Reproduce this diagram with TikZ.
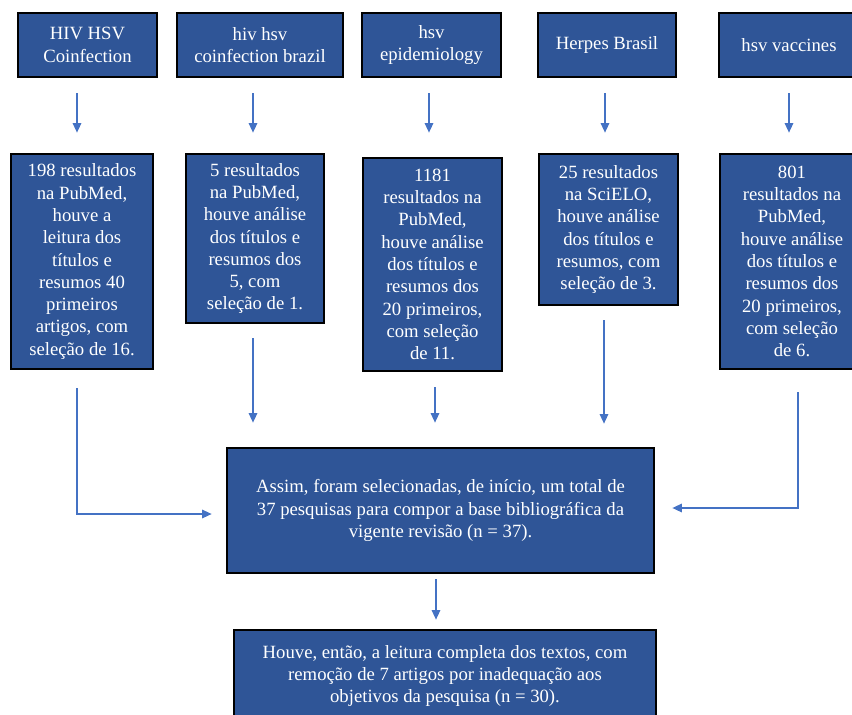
\documentclass[tikz,border=0pt]{standalone}
\usepackage{fontspec}
\setmainfont{Liberation Serif}
\usepackage{tikz}
\usetikzlibrary{arrows.meta,positioning,calc}
\definecolor{boxBlue}{RGB}{47,85,151}
\definecolor{arrBlue}{RGB}{68,114,196}

\begin{document}
\begin{tikzpicture}[
  x=1pt, y=-1pt,
  %% Dark blue box with black frame
  blk/.style={
    draw=black,
    line width=2.7pt,
    fill=boxBlue,
    text=white,
    align=center,
    inner sep=0pt,
    font=\fontsize{18.7}{22.3}\selectfont
  },
  %% Box size (width, height)
  boxsize/.style 2 args={minimum width=#1pt, minimum height=#2pt},
  arr/.style={-{Triangle[width=8.5pt,length=9.5pt]}, line width=1.4pt, arrBlue}
]
\useasboundingbox (0,0) rectangle (852,715);
\clip (0,0) rectangle (852,715);

%% ---- Search terms (top row) ----
\node[blk, boxsize={139}{64}] (hiv)    at (87.5,45)  {HIV HSV\\Coinfection};
\node[blk, boxsize={166}{64}] (hivbr)  at (260,45)   {hiv hsv\\coinfection brazil};
\node[blk, boxsize={139}{64}] (epi)    at (431.5,45) {hsv\\epidemiology};
\node[blk, boxsize={138}{64}] (herpes) at (607,45)   {Herpes Brasil};
\node[blk, boxsize={140}{64}] (vacc)   at (789,45)   {hsv vaccines};

%% ---- Search results (middle row) ----
\node[blk, boxsize={142}{215}] (rhiv)    at (82,261.5)  {198 resultados\\na PubMed,\\houve a\\leitura dos\\títulos e\\resumos 40\\primeiros\\artigos, com\\seleção de 16.};
\node[blk, boxsize={138}{169}] (rhivbr)  at (255,238.5) {5 resultados\\na PubMed,\\houve análise\\dos títulos e\\resumos dos\\5, com\\seleção de 1.};
\node[blk, boxsize={139}{213}] (repi)    at (432.5,264.5) {1181\\resultados na\\PubMed,\\houve análise\\dos títulos e\\resumos dos\\20 primeiros,\\com seleção\\de 11.};
\node[blk, boxsize={139}{151}] (rherpes) at (608.5,229.5) {25 resultados\\na SciELO,\\houve análise\\dos títulos e\\resumos, com\\seleção de 3.};
\node[blk, boxsize={144}{215}] (rvacc)   at (792,261.5)  {801\\resultados na\\PubMed,\\houve análise\\dos títulos e\\resumos dos\\20 primeiros,\\com seleção\\de 6.};

%% ---- Summary boxes ----
\node[blk, boxsize={427}{125}] (total) at (440.5,510.5)
  {Assim, foram selecionadas, de início, um total de\\
   37 pesquisas para compor a base bibliográfica da\\
   vigente revisão (n = 37).};
\node[blk, boxsize={422}{92}] (final) at (445,676)
  {Houve, então, a leitura completa dos textos, com\\
   remoção de 7 artigos por inadequação aos\\
   objetivos da pesquisa (n = 30).};

%% ---- Term -> result arrows ----
\draw[arr] ([shift={(-10.5,15)}]hiv.south)  -- ([shift={(-5,-20)}]rhiv.north);
\draw[arr] ([shift={(-7,15)}]hivbr.south)   -- ([shift={(-2,-20)}]rhivbr.north);
\draw[arr] ([shift={(-2.5,15)}]epi.south)   -- ([shift={(-3.5,-24)}]repi.north);
\draw[arr] ([shift={(-2,15)}]herpes.south)  -- ([shift={(-3.5,-20)}]rherpes.north);
\draw[arr] ([shift={(0,15)}]vacc.south)     -- ([shift={(-3,-20)}]rvacc.north);

%% ---- Result -> total arrows ----
\draw[arr] ([shift={(-5,18)}]rhiv.south) |- ([shift={(-14,3.5)}]total.west);
\draw[arr] ([shift={(-2,14)}]rhivbr.south)
  -- ([shift={(-2,-24)}]rhivbr.south |- total.north);
\draw[arr] ([shift={(2.5,15)}]repi.south)
  -- ([shift={(2.5,-24)}]repi.south |- total.north);
\draw[arr] ([shift={(-4.5,14)}]rherpes.south)
  -- ([shift={(-4.5,-23)}]rherpes.south |- total.north);
\draw[arr] ([shift={(6,22)}]rvacc.south) |- ([shift={(17,-2.5)}]total.east);

%% ---- Total -> final ----
\draw[arr] ([shift={(-4.5,5)}]total.south) -- ([shift={(-9,-9)}]final.north);

\end{tikzpicture}
\end{document}
